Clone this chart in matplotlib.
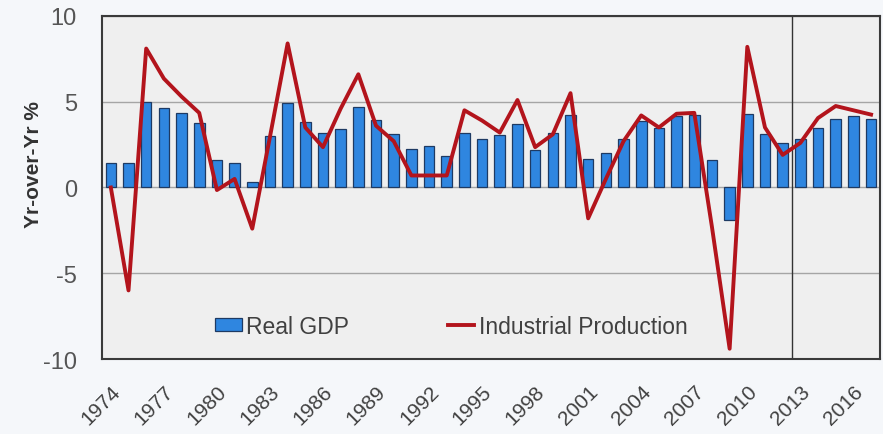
import numpy as np
import matplotlib
matplotlib.use('Agg')
import matplotlib.pyplot as plt

plt.rcParams['font.family'] = ['Liberation Sans', 'DejaVu Sans']
plt.rcParams['axes.unicode_minus'] = False

years = np.arange(1974, 2018)
real_gdp = [1.4, 1.45, 5.0, 4.65, 4.35, 3.75, 1.6, 1.45, 0.3, 3.0,
            4.95, 3.8, 3.2, 3.4, 4.7, 3.95, 3.1, 2.25, 2.4, 1.85,
            3.15, 2.85, 3.05, 3.7, 2.2, 3.2, 4.2, 1.65, 2.0, 2.8,
            3.85, 3.45, 4.15, 4.2, 1.6, -1.9, 4.3, 3.1, 2.6, 2.8,
            3.45, 4.0, 4.15, 4.0]
ind_prod = [0.0, -6.0, 8.1, 6.35, 5.3, 4.35, -0.15, 0.5, -2.4, 2.95,
            8.4, 3.5, 2.35, 4.6, 6.6, 3.6, 2.7, 0.7, 0.7, 0.7,
            4.5, 3.9, 3.2, 5.1, 2.35, 3.1, 5.5, -1.8, 0.5, 2.7,
            4.2, 3.5, 4.3, 4.35, -2.3, -9.4, 8.2, 3.5, 1.9, 2.6,
            4.05, 4.75, 4.5, 4.25]
tick_years = np.arange(1974, 2017, 3)
yticks = [-10, -5, 0, 5, 10]
split_year = 2012.5

fig = plt.figure(figsize=(8.83, 4.35), dpi=100, facecolor='#f5f7fa')
ax = fig.add_axes([0.1155, 0.1724, 0.881, 0.7886])
ax.set_facecolor('#efefef')

bars = ax.bar(years, real_gdp, width=0.6, color='#2f86e0', edgecolor='#1e3a63',
              linewidth=0.9, label='Real GDP', zorder=2)
line, = ax.plot(years, ind_prod, color='#b3141c', linewidth=2.8,
                label='Industrial Production', zorder=3)
ax.axvline(split_year, color='#333333', linewidth=1, zorder=1)

ax.set_xlim(1973.5, 2017.5)
ax.set_ylim(-10, 10)
ax.set_yticks(yticks)
ax.set_xticks(tick_years)
ax.set_xticklabels([str(y) for y in tick_years], rotation=45, ha='right',
                   va='top', rotation_mode='anchor', fontsize=15,
                   color='#404040')
ax.tick_params(axis='x', length=0, pad=16)
ax.tick_params(axis='y', length=0, pad=18, labelsize=17, labelcolor='#555555')
ax.yaxis.grid(True, color='#a5a5a5', linewidth=1, zorder=0)
ax.set_axisbelow(True)
for s in ax.spines.values():
    s.set_color('#3a3a3a')
    s.set_linewidth(1.5)

ax.set_ylabel('Yr-over-Yr %', fontsize=15, fontweight='bold', color='#333333')
ax.yaxis.set_label_coords(-0.076, 0.57)

ax.legend([bars, line], ['Real GDP', 'Industrial Production'],
          loc='center', bbox_to_anchor=(0.449, 0.096), ncol=2,
          frameon=False, fontsize=16.5, handlelength=1.15, handleheight=0.45,
          handletextpad=0.2, columnspacing=4.3, labelcolor='#404040')

plt.savefig('out.png', dpi=100, facecolor=fig.get_facecolor())
